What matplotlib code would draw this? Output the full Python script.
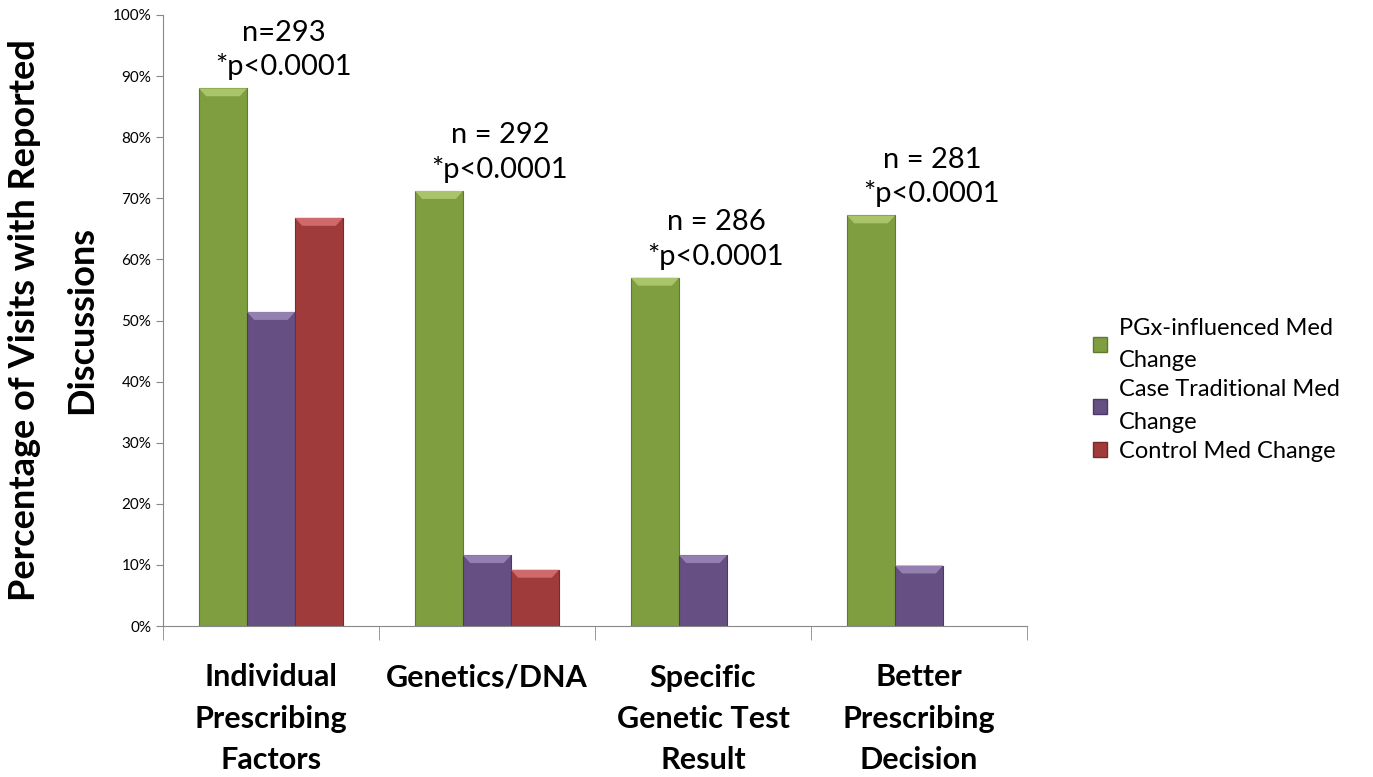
import numpy as np
import matplotlib
matplotlib.use("Agg")
import matplotlib.pyplot as plt
from matplotlib.patches import Polygon, Patch

categories = ["Individual\nPrescribing\nFactors", "Genetics/DNA",
              "Specific\nGenetic Test\nResult", "Better\nPrescribing\nDecision"]
series_names = ["PGx-influenced Med\nChange", "Case Traditional Med\nChange",
                "Control Med Change"]
pgx = [88.0, 71.2, 57.0, 67.2]
case_trad = [51.4, 11.6, 11.6, 9.9]
control = [66.8, 9.2, np.nan, np.nan]
notes = ["n=293\n*p<0.0001", "n = 292\n*p<0.0001", "n = 286\n*p<0.0001", "n = 281\n*p<0.0001"]

colors = ["#7f9e3f", "#654f83", "#a03b3b"]
edges = ["#5f7a2c", "#4b3a63", "#7a2a2a"]
tops = ["#a9c46a", "#9480b0", "#d06a6a"]

plt.rcParams['font.family'] = ['Lato', 'DejaVu Sans']

fig = plt.figure(figsize=(13.73, 7.77), dpi=100)
ax = fig.add_axes([163 / 1373, 1 - 626 / 777, (1027 - 163) / 1373, (626 - 15) / 777])

x = np.arange(len(categories))
w = 0.2222
for i, vals in enumerate([pgx, case_trad, control]):
    xs = x + (i - 1) * w
    bars = ax.bar(xs, vals, width=w, color=colors[i], edgecolor=edges[i], linewidth=0.8,
                  label=series_names[i], zorder=2)
    # bevel highlight at top of each bar
    for b in bars:
        h = b.get_height()
        if np.isnan(h):
            continue
        x0, bw = b.get_x(), b.get_width()
        d = 1.3
        ax.add_patch(Polygon([[x0, h], [x0 + bw, h], [x0 + bw * 0.85, h - d], [x0 + bw * 0.15, h - d]],
                             closed=True, facecolor=tops[i], edgecolor='none', zorder=3))

for xi, top, txt in zip(x, pgx, notes):
    ax.text(xi + 0.06, top + 1.3, txt, ha='center', va='bottom',
            fontsize=21, linespacing=1.35)

ax.set_xlim(-0.5, 3.5)
ax.set_ylim(0, 100)
ax.set_yticks(np.arange(0, 101, 10))
ax.set_yticklabels([f"{v}%" for v in range(0, 101, 10)], fontsize=11)
ax.set_xticks(x)
ax.set_xticklabels(categories, fontsize=22, fontweight='bold', linespacing=1.58)
ax.tick_params(axis='x', length=0, pad=27)
ax.set_xticks(np.arange(-0.5, 3.6, 1), minor=True)
ax.tick_params(axis='x', which='minor', length=10, color='#888888')
ax.tick_params(axis='y', length=5, color='#888888')
for s in ['top', 'right']:
    ax.spines[s].set_visible(False)
for s in ['left', 'bottom']:
    ax.spines[s].set_color('#888888')

ax.set_ylabel("Percentage of Visits with Reported\nDiscussions", fontsize=26,
              fontweight='bold', labelpad=10, linespacing=1.9)

handles = [Patch(facecolor=colors[i], edgecolor=edges[i]) for i in range(3)]
leg = fig.legend(handles, series_names, loc='center left', bbox_to_anchor=(1072 / 1373, 1 - 390 / 777),
                 frameon=False, fontsize=17, handlelength=0.6, handleheight=0.6, handletextpad=0.5,
                 labelspacing=0.35)
for t in leg.get_texts():
    t.set_linespacing(1.65)

fig.savefig("out.png", dpi=100)
